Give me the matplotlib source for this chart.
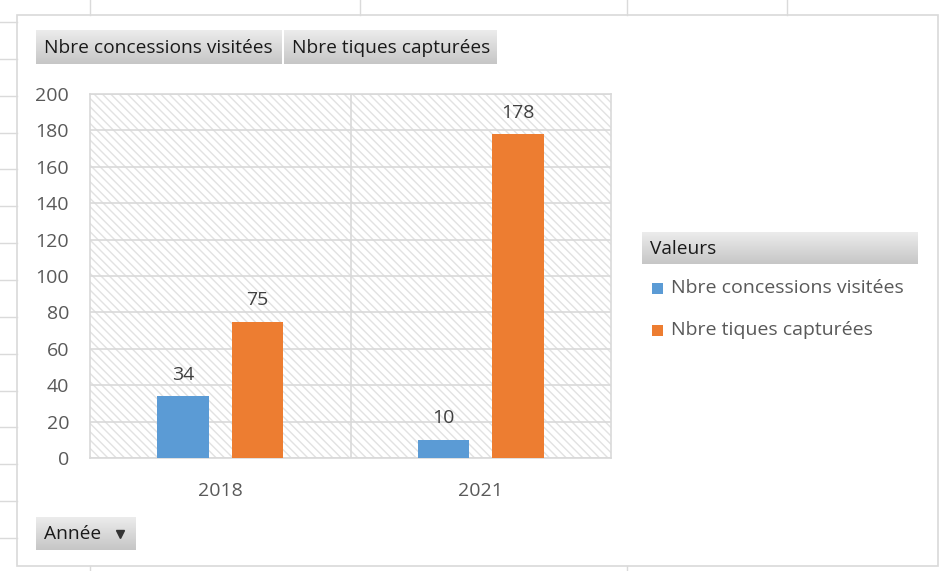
import numpy as np
import matplotlib
matplotlib.use("Agg")
from matplotlib import pyplot as plt
from matplotlib.patches import Rectangle

plt.rcParams['font.family'] = ['Open Sans', 'DejaVu Sans']

annees = ['2018', '2021']
concessions = [34, 10]
tiques = [75, 178]
series = ['Nbre concessions visitées', 'Nbre tiques capturées']
couleurs = ['#5B9BD5', '#ED7D31']
yticks = list(range(0, 201, 20))

W, H = 939, 571
fig = plt.figure(figsize=(W / 100, H / 100), dpi=100)


def fx(x):
    return x / W


def fy(y):
    return 1 - y / H


# grille du tableur derriere le graphique
for xg in [90, 360, 627, 787]:
    fig.add_artist(plt.Line2D([fx(xg)] * 2, [fy(0), fy(15)], color='#dadada', lw=1))
for xg in [90, 627]:
    fig.add_artist(plt.Line2D([fx(xg)] * 2, [fy(566), fy(571)], color='#dadada', lw=1))
for k in range(15):
    yg = 22 + 36.86 * k
    fig.add_artist(plt.Line2D([0, fx(17)], [fy(yg)] * 2, color='#dadada', lw=1))

# cadre du graphique
fig.add_artist(Rectangle((fx(17), fy(566)), fx(938) - fx(17), fy(15) - fy(566),
                         transform=fig.transFigure, facecolor='white',
                         edgecolor='#d9d9d9', lw=1.2, zorder=0))


def bouton(x0, y0, x1, y1, texte, size=13.8, fleche=False):
    b = fig.add_axes([fx(x0), fy(y1), fx(x1) - fx(x0), fy(y0) - fy(y1)])
    grad = np.linspace(0, 1, 50).reshape(-1, 1)
    b.imshow(grad, aspect='auto', cmap=matplotlib.colors.LinearSegmentedColormap.from_list(
        'g', ['#ececec', '#c6c6c6']), extent=[0, 1, 0, 1], origin='upper')
    b.set_xlim(0, 1)
    b.set_ylim(0, 1)
    b.axis('off')
    b.text(8 / (x1 - x0), 0.47, texte, ha='left', va='center', fontsize=size, color='#1a1a1a')
    if fleche:
        b.plot([0.84], [0.47], marker='v', color='#333333', markersize=6)
    return b


bouton(36, 30, 282, 64, series[0])
bouton(284, 30, 497, 64, series[1])
bouton(642, 232, 918, 264, 'Valeurs')
bouton(36, 517, 136, 550, 'Année', fleche=True)

ax = fig.add_axes([fx(90), fy(458), fx(611) - fx(90), fy(94) - fy(458)])
ax.add_patch(Rectangle((0, 0), 1, 1, transform=ax.transAxes, facecolor='white',
                       edgecolor='#e2e2e2', hatch='\\\\\\\\', lw=0, zorder=0))

x = np.arange(len(annees))
w = 0.196
b1 = ax.bar(x - 0.143, concessions, w, color=couleurs[0], zorder=3, label=series[0])
b2 = ax.bar(x + 0.143, tiques, w, color=couleurs[1], zorder=3, label=series[1])
for bars in (b1, b2):
    for r in bars:
        ax.annotate(str(int(r.get_height())), (r.get_x() + r.get_width() / 2, r.get_height()),
                    xytext=(0, 9), textcoords='offset points', ha='center', va='bottom',
                    fontsize=14, color='#404040')

ax.set_xlim(-0.5, 1.5)
ax.set_ylim(0, 200)
ax.set_yticks(yticks)
ax.set_xticks(x)
ax.set_xticklabels(annees)
ax.grid(axis='y', color='#d9d9d9', lw=1.2, zorder=1)
ax.axvline(0.5, color='#d9d9d9', lw=1.2, zorder=1)
ax.set_axisbelow(True)
for s in ax.spines.values():
    s.set_color('#d9d9d9')
    s.set_linewidth(1.2)
ax.tick_params(length=0, labelsize=14, labelcolor='#595959')
ax.tick_params(axis='y', pad=15)
ax.tick_params(axis='x', pad=17)

# legende
leg_y = [288, 330]
for c, s, yy in zip(couleurs, series, leg_y):
    fig.add_artist(Rectangle((fx(652), fy(yy + 6)), fx(663) - fx(652), fy(yy - 5) - fy(yy + 6),
                             transform=fig.transFigure, facecolor=c, edgecolor='none'))
    fig.text(fx(671), fy(yy), s, ha='left', va='center', fontsize=14, color='#595959')

plt.savefig('out.png', dpi=100)
